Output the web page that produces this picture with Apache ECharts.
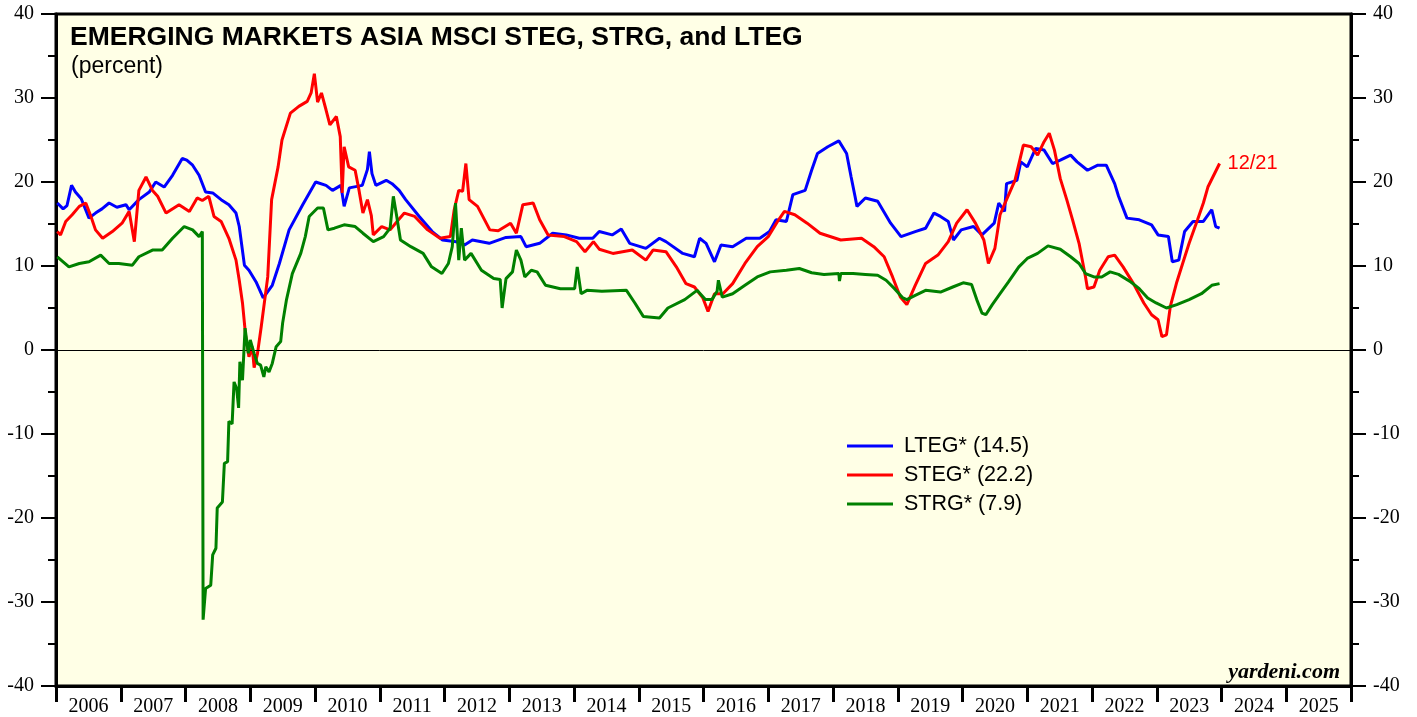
<!DOCTYPE html>
<html>
<head>
<meta charset="utf-8">
<script src="https://cdn.jsdelivr.net/npm/echarts@6/dist/echarts.min.js"></script>
<style>
html,body{margin:0;padding:0;background:#fff;}
#chart{width:1417px;height:717px;}
</style>
</head>
<body>
<div id="chart"></div>
<script>
// x values are decimal years (weekly data ending 12/21/2023)
const years = ['2006','2007','2008','2009','2010','2011','2012','2013','2014','2015','2016','2017','2018','2019','2020','2021','2022','2023','2024','2025'];

const LTEG = [
[2006.02,17.5],[2006.11,16.8],[2006.17,17.2],[2006.24,19.6],[2006.30,18.8],[2006.39,18.0],[2006.51,15.7],[2006.61,16.3],[2006.71,16.8],[2006.82,17.5],[2006.94,17.0],
[2007.08,17.3],[2007.13,16.7],[2007.28,17.9],[2007.44,18.8],[2007.54,20.0],[2007.67,19.4],[2007.80,20.8],[2007.95,22.8],[2008.02,22.6],[2008.11,22.0],[2008.21,20.8],
[2008.31,18.8],[2008.42,18.7],[2008.55,17.9],[2008.67,17.3],[2008.78,16.3],[2008.83,14.7],[2008.91,10.1],[2008.98,9.5],[2009.09,8.1],[2009.20,6.2],[2009.34,7.7],
[2009.45,10.3],[2009.60,14.3],[2009.81,17.3],[2010.01,20.0],[2010.17,19.6],[2010.27,19.0],[2010.40,19.6],[2010.45,17.1],[2010.53,19.3],[2010.73,19.6],[2010.81,21.5],
[2010.84,23.6],[2010.88,21.0],[2010.94,19.6],[2011.10,20.2],[2011.19,19.8],[2011.30,19.0],[2011.40,17.9],[2011.61,15.9],[2011.81,14.1],[2011.97,13.1],[2012.18,12.9],
[2012.31,12.5],[2012.43,13.1],[2012.69,12.7],[2012.95,13.4],[2013.18,13.5],[2013.26,12.3],[2013.47,12.7],[2013.67,13.9],[2013.88,13.7],[2014.08,13.3],[2014.29,13.3],
[2014.39,14.1],[2014.59,13.7],[2014.73,14.4],[2014.86,12.7],[2015.11,12.1],[2015.32,13.3],[2015.42,12.9],[2015.68,11.5],[2015.86,11.1],[2015.94,13.3],[2016.04,12.7],
[2016.17,10.5],[2016.27,12.5],[2016.45,12.3],[2016.66,13.3],[2016.87,13.3],[2017.02,14.1],[2017.12,15.5],[2017.28,15.3],[2017.38,18.5],[2017.57,19.0],[2017.67,21.4],
[2017.76,23.4],[2017.92,24.2],[2018.09,24.9],[2018.21,23.4],[2018.28,20.6],[2018.34,18.3],[2018.37,17.1],[2018.50,18.1],[2018.69,17.7],[2018.89,15.1],[2019.05,13.5],
[2019.27,14.1],[2019.43,14.5],[2019.56,16.3],[2019.66,15.9],[2019.78,15.3],[2019.86,13.1],[2019.98,14.3],[2020.17,14.7],[2020.30,13.7],[2020.49,15.1],[2020.56,17.5],
[2020.65,16.5],[2020.68,19.8],[2020.84,20.2],[2020.90,22.4],[2021.00,21.8],[2021.13,24.0],[2021.26,23.8],[2021.39,22.2],[2021.51,22.6],[2021.67,23.2],[2021.77,22.4],
[2021.93,21.4],[2022.09,22.0],[2022.22,22.0],[2022.35,19.8],[2022.41,18.3],[2022.54,15.7],[2022.73,15.5],[2022.92,14.9],[2023.02,13.7],[2023.18,13.5],[2023.24,10.5],
[2023.34,10.7],[2023.43,14.1],[2023.56,15.3],[2023.72,15.3],[2023.85,16.7],[2023.91,14.7],[2023.97,14.5]
];

const STEG = [
[2006.02,14.1],[2006.07,13.7],[2006.15,15.3],[2006.25,16.1],[2006.36,17.1],[2006.46,17.5],[2006.54,15.9],[2006.61,14.3],[2006.72,13.3],[2006.87,14.1],[2007.02,15.1],
[2007.13,16.5],[2007.21,12.9],[2007.28,19.0],[2007.39,20.6],[2007.49,19.0],[2007.57,18.3],[2007.70,16.3],[2007.90,17.3],[2008.06,16.5],[2008.18,18.1],[2008.26,17.8],
[2008.36,18.3],[2008.44,15.9],[2008.55,15.3],[2008.67,13.3],[2008.78,10.7],[2008.83,8.3],[2008.88,5.6],[2008.93,1.6],[2008.98,-0.8],[2009.03,0.4],[2009.06,-2.1],
[2009.11,-0.5],[2009.17,2.8],[2009.27,8.7],[2009.33,17.9],[2009.43,21.8],[2009.49,25.0],[2009.62,28.2],[2009.75,29.0],[2009.88,29.6],[2009.94,30.6],[2009.99,32.9],
[2010.04,29.5],[2010.10,30.6],[2010.17,28.6],[2010.23,26.8],[2010.33,27.8],[2010.39,25.4],[2010.42,18.7],[2010.45,24.2],[2010.52,21.8],[2010.62,21.4],[2010.68,19.0],
[2010.74,16.3],[2010.81,17.9],[2010.87,16.0],[2010.90,13.7],[2011.03,14.7],[2011.16,14.3],[2011.29,15.5],[2011.38,16.3],[2011.54,15.9],[2011.74,14.3],[2011.93,13.3],
[2012.09,13.5],[2012.15,16.7],[2012.22,19.0],[2012.28,18.9],[2012.33,22.2],[2012.38,17.9],[2012.51,17.1],[2012.70,14.3],[2012.83,14.2],[2013.02,15.1],[2013.11,13.9],
[2013.21,17.3],[2013.37,17.5],[2013.47,15.5],[2013.60,13.7],[2013.85,13.5],[2014.04,12.9],[2014.17,11.7],[2014.30,12.9],[2014.39,12.0],[2014.60,11.5],[2014.90,11.9],
[2015.11,10.7],[2015.22,11.9],[2015.42,11.7],[2015.58,9.9],[2015.73,7.9],[2015.86,7.5],[2015.99,6.2],[2016.07,4.6],[2016.17,6.7],[2016.30,6.7],[2016.45,7.9],
[2016.64,10.3],[2016.83,12.3],[2017.00,13.5],[2017.16,15.5],[2017.25,16.5],[2017.41,16.1],[2017.60,15.1],[2017.80,13.9],[2018.12,13.1],[2018.44,13.3],[2018.63,12.3],
[2018.79,11.1],[2018.92,8.7],[2019.04,6.3],[2019.14,5.4],[2019.27,7.7],[2019.43,10.3],[2019.62,11.3],[2019.78,12.9],[2019.91,15.1],[2020.07,16.7],[2020.20,15.1],
[2020.33,13.1],[2020.40,10.3],[2020.50,12.1],[2020.58,16.1],[2020.68,17.9],[2020.81,20.2],[2020.94,24.4],[2021.06,24.2],[2021.16,23.2],[2021.26,24.8],[2021.34,25.8],
[2021.42,23.8],[2021.51,20.4],[2021.61,17.9],[2021.70,15.5],[2021.80,12.7],[2021.90,8.7],[2021.93,7.3],[2022.03,7.5],[2022.12,9.5],[2022.25,11.1],[2022.35,11.3],
[2022.48,9.9],[2022.64,7.9],[2022.80,5.6],[2022.92,4.2],[2023.02,3.6],[2023.08,1.6],[2023.15,1.8],[2023.21,5.2],[2023.31,8.1],[2023.40,10.3],[2023.50,12.7],
[2023.63,15.5],[2023.72,17.5],[2023.79,19.4],[2023.88,20.8],[2023.97,22.2]
];

const STRG = [
[2006.02,11.1],[2006.20,9.9],[2006.36,10.3],[2006.51,10.5],[2006.69,11.3],[2006.82,10.3],[2006.97,10.3],[2007.18,10.1],[2007.28,11.1],[2007.49,11.9],[2007.64,11.9],
[2007.80,13.3],[2007.98,14.7],[2008.11,14.3],[2008.21,13.5],[2008.26,14.1],[2008.272,-32.1],[2008.31,-28.4],[2008.39,-28.0],[2008.42,-24.4],[2008.47,-23.6],
[2008.49,-18.8],[2008.57,-18.1],[2008.60,-13.5],[2008.65,-13.3],[2008.67,-8.5],[2008.72,-8.8],[2008.75,-3.8],[2008.79,-4.6],[2008.82,-6.9],[2008.84,-1.4],
[2008.88,-3.6],[2008.92,2.6],[2008.97,-0.4],[2009.00,1.2],[2009.06,-0.4],[2009.11,-1.6],[2009.16,-1.8],[2009.21,-3.2],[2009.24,-2.0],[2009.29,-2.6],[2009.34,-1.6],
[2009.40,0.4],[2009.47,1.0],[2009.50,3.2],[2009.56,6.0],[2009.65,9.1],[2009.78,11.5],[2009.85,13.5],[2009.91,15.9],[2010.04,16.9],[2010.13,16.9],[2010.20,14.3],
[2010.30,14.5],[2010.45,14.9],[2010.62,14.7],[2010.74,13.9],[2010.90,12.9],[2011.06,13.5],[2011.16,14.5],[2011.21,18.3],[2011.26,16.0],[2011.32,13.1],[2011.48,12.3],
[2011.67,11.5],[2011.80,9.9],[2011.96,9.1],[2012.06,10.3],[2012.12,12.3],[2012.17,17.5],[2012.22,10.7],[2012.26,14.5],[2012.31,10.7],[2012.41,11.5],[2012.57,9.5],
[2012.76,8.5],[2012.86,8.4],[2012.89,5.0],[2012.95,8.5],[2013.05,9.3],[2013.11,11.9],[2013.18,10.7],[2013.24,8.7],[2013.34,9.5],[2013.43,9.3],[2013.56,7.7],
[2013.79,7.3],[2014.01,7.3],[2014.05,9.9],[2014.11,6.7],[2014.20,7.1],[2014.43,7.0],[2014.81,7.1],[2014.94,5.6],[2015.07,4.0],[2015.32,3.8],[2015.45,5.0],
[2015.71,6.0],[2015.90,7.1],[2016.03,6.0],[2016.13,6.0],[2016.21,7.0],[2016.23,8.3],[2016.29,6.3],[2016.45,6.7],[2016.64,7.7],[2016.83,8.7],[2017.03,9.3],
[2017.28,9.5],[2017.48,9.7],[2017.67,9.2],[2017.86,9.0],[2018.09,9.1],[2018.10,8.2],[2018.12,9.1],[2018.31,9.1],[2018.50,9.0],[2018.69,8.9],[2018.82,8.3],
[2018.95,7.3],[2019.08,6.2],[2019.14,6.0],[2019.27,6.5],[2019.43,7.1],[2019.66,6.9],[2019.85,7.5],[2020.01,8.0],[2020.14,7.8],[2020.22,6.0],[2020.30,4.4],
[2020.36,4.2],[2020.46,5.4],[2020.58,6.7],[2020.71,8.1],[2020.87,9.9],[2021.00,10.9],[2021.16,11.5],[2021.32,12.4],[2021.51,12.0],[2021.67,11.1],[2021.80,10.3],
[2021.90,9.1],[2022.03,8.7],[2022.15,8.7],[2022.28,9.3],[2022.41,9.0],[2022.60,8.1],[2022.73,7.3],[2022.86,6.2],[2022.99,5.6],[2023.15,5.0],[2023.31,5.4],
[2023.50,6.0],[2023.69,6.7],[2023.85,7.7],[2023.97,7.9]
];

const seriesNames = ['LTEG* (14.5)','STEG* (22.2)','STRG* (7.9)'];
const seriesColors = ['#0000ff','#ff0000','#008000'];
const lastDateLabel = '12/21';

const chart = echarts.init(document.getElementById('chart'), null, {renderer:'canvas'});
const serifFont = 'Liberation Serif';
const sansFont = 'Liberation Sans';

function mkY(pos){
  return {
    type:'value', position:pos, min:-40, max:40, interval:10,
    axisLine:{show:true, onZero:false, lineStyle:{color:'#000', width:3}},
    axisTick:{show:true, length:15, lineStyle:{color:'#000', width:2}},
    minorTick:{show:true, splitNumber:2, length:8, lineStyle:{color:'#000', width:2}},
    splitLine:{show:false},
    axisLabel:{color:'#000', fontFamily:serifFont, fontSize:20, margin:22}
  };
}

const option = {
  backgroundColor:'#ffffff',
  animation:false,
  grid:{left:56, right:66, top:14, bottom:31, show:true, backgroundColor:'#ffffe6', borderColor:'#000', borderWidth:3},
  title:[
    {text:'EMERGING MARKETS ASIA MSCI STEG, STRG, and LTEG', left:65, top:19,
     textStyle:{fontFamily:sansFont, fontWeight:'bold', fontSize:26.5, color:'#000'}},
    {text:'(percent)', left:66, top:50,
     textStyle:{fontFamily:sansFont, fontWeight:'normal', fontSize:23, color:'#000'}}
  ],
  legend:{
    orient:'vertical', left:842, top:430, itemWidth:46, itemHeight:3, itemGap:7,
    icon:'rect',
    data:seriesNames,
    textStyle:{fontFamily:sansFont, fontSize:21.5, color:'#000', padding:[0,0,0,6]}
  },
  xAxis:[
    {type:'value', min:2006, max:2026, interval:1, position:'bottom',
     axisLine:{show:true, onZero:false, lineStyle:{color:'#000', width:3}},
     axisTick:{show:true, length:16, lineStyle:{color:'#000', width:3}},
     axisLabel:{show:false}, splitLine:{show:false}},
    {type:'category', data:years, position:'bottom', boundaryGap:true,
     axisLine:{show:false}, axisTick:{show:false},
     axisLabel:{color:'#000', fontFamily:serifFont, fontSize:20, margin:11}}
  ],
  yAxis:[mkY('left'), mkY('right')],
  series:[
    {name:seriesNames[0], type:'line', data:LTEG, symbol:'none', color:seriesColors[0],
     lineStyle:{width:3, color:seriesColors[0]}, z:3,
     markLine:{silent:true, symbol:'none', label:{show:false}, lineStyle:{color:'#000', width:1, type:'solid'}, data:[{yAxis:0}]}},
    {name:seriesNames[1], type:'line', data:STEG, symbol:'none', color:seriesColors[1],
     lineStyle:{width:3, color:seriesColors[1]}, z:4,
     endLabel:{show:true, formatter:lastDateLabel, color:'#ff0000', fontFamily:sansFont, fontSize:20, distance:8}},
    {name:seriesNames[2], type:'line', data:STRG, symbol:'none', color:seriesColors[2],
     lineStyle:{width:3, color:seriesColors[2]}, z:5}
  ],
  graphic:[
    {type:'text', right:77, top:661, style:{text:'yardeni.com', fill:'#000', font:'italic bold 22px "Liberation Serif"'}}
  ]
};
chart.setOption(option);
</script>
</body>
</html>
